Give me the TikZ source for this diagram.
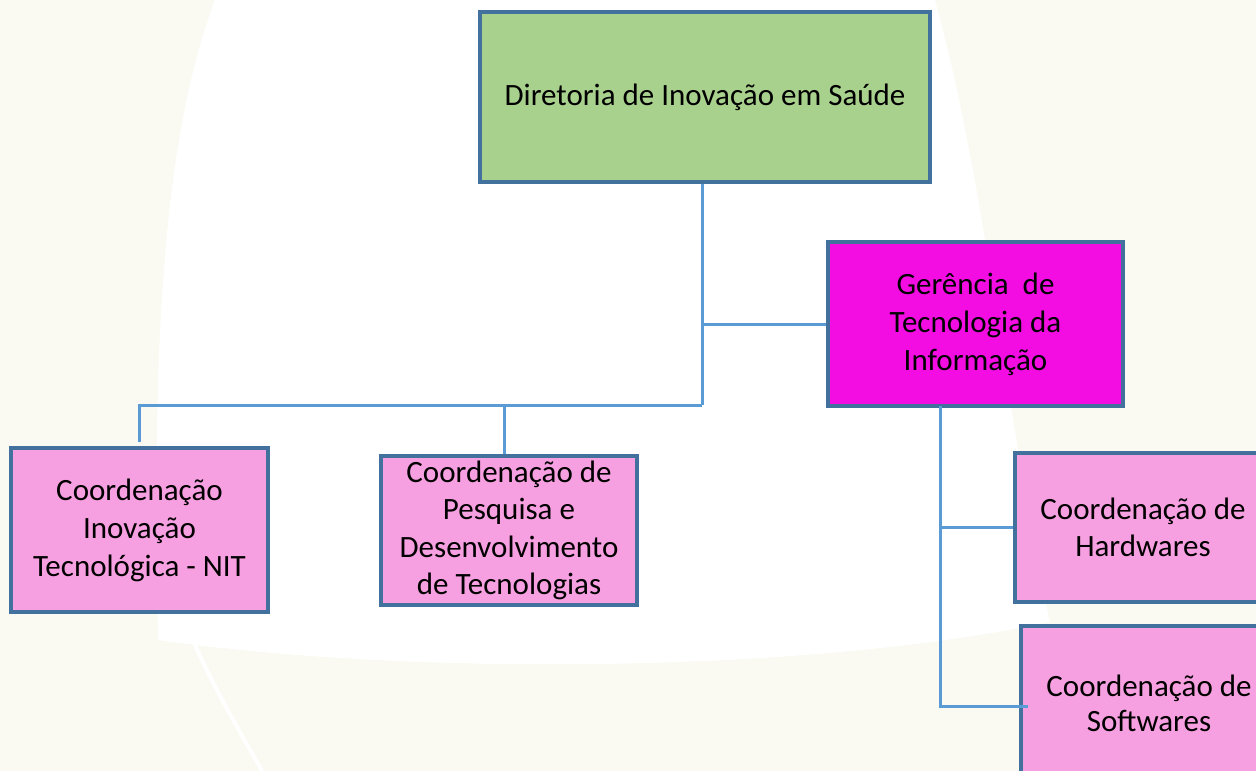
\documentclass[tikz,border=0pt]{standalone}
\usepackage{fontspec}
\setmainfont{Carlito}
\definecolor{bgcream}{HTML}{FAFAF2}
\definecolor{boxline}{HTML}{41719C}
\definecolor{connline}{HTML}{5B9BD5}
\definecolor{dirgreen}{HTML}{A9D18E}
\definecolor{germag}{HTML}{F30DE3}
\definecolor{coordpink}{HTML}{F7A0E1}
\tikzset{
  orgbox/.style={draw=boxline, line width=3.5pt, rectangle, inner sep=0pt, align=center,
    font=\fontsize{31}{38}\selectfont, text=black},
  conn/.style={draw=connline, line width=3pt},
}
\begin{document}
\begin{tikzpicture}[x=1pt,y=-1pt]
\useasboundingbox (0,0) rectangle (1256,771);
% background
\fill[bgcream] (0,0) rectangle (1256,771);
\fill[white] (215,0) .. controls (170,120) and (150,300) .. (158,640)
  .. controls (400,675) and (800,675) .. (1050,622)
  .. controls (1010,450) and (990,200) .. (935,0) -- cycle;
\draw[white, line width=4pt] (195,645) .. controls (220,700) and (245,740) .. (262,771);
% boxes
\node[orgbox, fill=dirgreen, minimum width=450pt, minimum height=170pt] (dir) at (705,97) {\raisebox{-3pt}{Diretoria de Inovação em Saúde}};
\node[orgbox, fill=germag, minimum width=295pt, minimum height=164pt] (ger) at (975.5,324) {Gerência\ \ de\\Tecnologia da\\Informação};
\node[orgbox, fill=coordpink, minimum width=257pt, minimum height=164pt] (nit) at (139.5,530) {Coordenação\\Inovação\\Tecnológica - NIT};
\node[orgbox, fill=coordpink, minimum width=256pt, minimum height=149pt, font=\fontsize{31}{37.5}\selectfont] (pd) at (509,530.5) {Coordenação de\\Pesquisa e\\Desenvolvimento\\de Tecnologias};
\node[orgbox, fill=coordpink, minimum width=256pt, minimum height=149pt, font=\fontsize{31}{37}\selectfont] (hw) at (1143,527.5) {Coordenação de\\Hardwares};
\node[orgbox, fill=coordpink, minimum width=256pt, minimum height=154pt, font=\fontsize{31}{35}\selectfont] (sw) at (1149,703) {Coordenação de\\Softwares};
% connectors
\coordinate (j1) at (702,405);
\coordinate (j2) at (702,324);
\coordinate (g1) at (940,406);
\draw[conn] ([xshift=-3pt]dir.south) -- (j1);
\draw[conn] (j2) -- (ger.west);
\draw[conn] ([yshift=4pt]nit.north) |- (j1);
\draw[conn] ([xshift=-5pt]pd.north) -- ([xshift=-5pt]pd.north |- j1);
\draw[conn] (g1) |- ([xshift=9pt,yshift=-3pt]sw.west);
\draw[conn] (g1 |- hw.west) -- (hw.west);
\end{tikzpicture}
\end{document}
